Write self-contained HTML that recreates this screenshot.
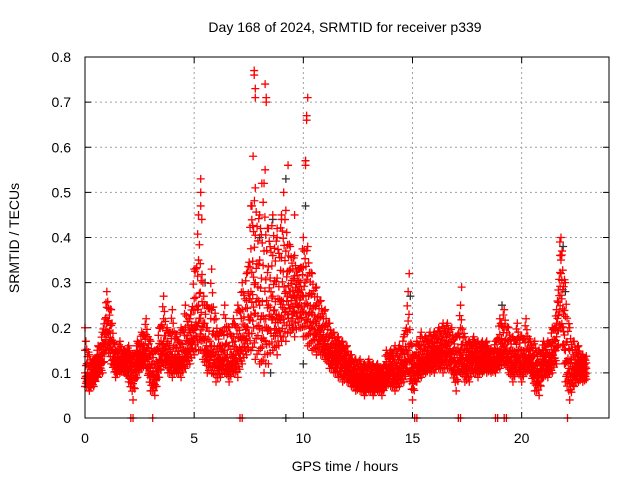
<!DOCTYPE html>
<html><head><meta charset="utf-8"><style>
body{margin:0;background:#fff}
svg{display:block;font-family:"Liberation Sans",sans-serif}
</style></head><body>
<svg id="chart" width="640" height="480" viewBox="0 0 640 480">
<rect width="640" height="480" fill="#fff"/>
<text x="345" y="32" text-anchor="middle" font-size="14">Day 168 of 2024, SRMTID for receiver p339</text>
<text x="345" y="471" text-anchor="middle" font-size="14">GPS time / hours</text>
<text transform="translate(19,238) rotate(-90)" text-anchor="middle" font-size="14">SRMTID / TECUs</text>
<g id="grid"></g>
<g id="ticks"></g>
<g id="dark"></g>
<g id="red"></g>
<rect x="85" y="57" width="524" height="361" fill="none" stroke="#000" stroke-width="1"/>
</svg>
<script>
const xTicks=[0,5,10,15,20];
const yTicks=[0,0.1,0.2,0.3,0.4,0.5,0.6,0.7,0.8];
const yTickLabels=["0","0.1","0.2","0.3","0.4","0.5","0.6","0.7","0.8"];
const binStart=0, binStep=0.2;
const lo=[.07,.06,.07,.09,.10,.15,.12,.09,.10,.10,.08,.04,.09,.11,.11,.06,.05,.09,.12,.10,.09,.10,.09,.11,.12,.14,.15,.13,.10,.10,.08,.09,.10,.08,.10,.09,.12,.14,.15,.13,.12,.10,.12,.15,.14,.17,.17,.19,.18,.20,.18,.16,.15,.14,.14,.13,.11,.10,.09,.08,.08,.07,.06,.06,.05,.06,.05,.06,.05,.07,.07,.06,.07,.08,.10,.04,.08,.09,.10,.10,.10,.11,.10,.11,.10,.06,.10,.08,.08,.10,.09,.10,.10,.10,.10,.11,.12,.10,.08,.10,.08,.10,.10,.06,.05,.09,.09,.10,.12,.20,.08,.04,.07,.08,.08];
const mid=[.10,.09,.10,.12,.14,.21,.17,.12,.13,.12,.13,.10,.13,.14,.15,.11,.09,.13,.17,.14,.14,.13,.13,.15,.17,.20,.25,.20,.15,.16,.14,.13,.15,.12,.14,.15,.18,.20,.28,.30,.25,.22,.25,.27,.22,.26,.28,.28,.27,.28,.27,.25,.23,.21,.19,.17,.15,.14,.14,.13,.12,.10,.09,.09,.08,.09,.08,.09,.08,.10,.11,.10,.11,.12,.15,.10,.12,.13,.13,.14,.14,.15,.15,.16,.14,.12,.15,.12,.13,.14,.13,.13,.14,.12,.13,.15,.16,.14,.12,.14,.12,.14,.13,.11,.10,.13,.12,.14,.18,.32,.15,.10,.11,.12,.11];
const hi=[.20,.14,.13,.16,.19,.28,.24,.15,.17,.15,.16,.14,.17,.19,.22,.17,.15,.20,.27,.19,.24,.18,.20,.25,.22,.33,.45,.30,.25,.33,.22,.19,.25,.20,.22,.25,.30,.32,.47,.51,.45,.52,.42,.45,.40,.45,.46,.38,.36,.33,.40,.38,.32,.29,.26,.24,.21,.19,.18,.17,.16,.14,.13,.13,.12,.13,.12,.12,.11,.15,.15,.16,.16,.18,.28,.14,.17,.19,.18,.19,.19,.20,.21,.21,.20,.18,.25,.18,.17,.18,.17,.17,.17,.15,.17,.22,.24,.20,.18,.21,.18,.22,.17,.17,.15,.17,.17,.20,.24,.40,.30,.20,.17,.16,.14];
const peakT=[5.3,5.3,5.35,5.3,7.75,7.75,7.8,7.8,7.7,8.25,8.3,8.3,8.1,8.25,9.3,9.1,10.2,10.15,10.15,10.1,10.1,7.65,9.6,8.8,9.0,14.85,17.25,21.75,21.85,21.8];
const peakV=[.53,.50,.44,.47,.77,.76,.73,.71,.58,.74,.70,.71,.52,.55,.56,.50,.71,.67,.66,.57,.56,.47,.45,.42,.44,.32,.29,.39,.37,.35];
const zeroT=[2.1,2.2,3.1,7.1,7.2,15.1,15.2,17.1,17.2,18.8,18.9,19.2,19.3,22.1];
const darkT=[0.1,0.2,2.0,5.5,8.0,8.5,9.2,10.1,10.0,10.1,14.9,21.9,22.0,19.1,9.5,11.0,16.0,9.2,8.6,5.8];
const darkV=[.12,.07,.10,.30,.40,.10,.53,.47,.12,.57,.27,.38,.28,.25,.20,.15,.19,0,.44,.24];

const X0=85,X1=609,Y0=418,Y1=57,xMax=24,yMax=0.8;
const xs=t=>X0+t/xMax*(X1-X0);
const ys=v=>Y0-v/yMax*(Y0-Y1);
const NS="http://www.w3.org/2000/svg";
function mk(tag,attrs,parent){const e=document.createElementNS(NS,tag);for(const k in attrs)e.setAttribute(k,attrs[k]);parent.appendChild(e);return e;}
const grid=document.getElementById('grid'),ticks=document.getElementById('ticks');
xTicks.forEach((t,i)=>{const x=xs(t);
 if(t>0){const g=mk('line',{x1:x,x2:x,y1:Y1,y2:Y0,stroke:'#a0a0a0','stroke-dasharray':'2,3'},grid);}
 mk('line',{x1:x,x2:x,y1:Y0,y2:Y0-6,stroke:'#000'},ticks);mk('line',{x1:x,x2:x,y1:Y1,y2:Y1+6,stroke:'#000'},ticks);
 const tx=mk('text',{x:x,y:443,'text-anchor':'middle','font-size':'14'},ticks);tx.textContent=String(t);
 
 });
yTicks.forEach((v,i)=>{const y=ys(v);
 if(v>0&&v<yMax){const g=mk('line',{x1:X0,x2:X1,y1:y,y2:y,stroke:'#a0a0a0','stroke-dasharray':'2,3'},grid);}
 mk('line',{x1:X0,x2:X0+6,y1:y,y2:y,stroke:'#000'},ticks);mk('line',{x1:X1,x2:X1-6,y1:y,y2:y,stroke:'#000'},ticks);
 const tx=mk('text',{x:71,y:y+5,'text-anchor':'end','font-size':'14'},ticks);tx.textContent=yTickLabels[i];
 
 });
function plus(g,t,v,color){const x=xs(t),y=ys(v);
 const p=mk('path',{d:`M${x-4},${y}H${x+4}M${x},${y-4}V${y+4}`,stroke:color,'stroke-width':'1.3',fill:'none'},g);
 
 }
const dark=document.getElementById('dark'),red=document.getElementById('red');
darkT.forEach((t,i)=>plus(dark,t,darkV[i],'#333'));
const wSets=[[0,0.3,0.5,0.75,1],[0.15,0.4,0.6,0.9],[0.05,0.25,0.45,0.65,0.85],[0.2,0.35,0.55,0.8],[0.1,0.3,0.5,0.7,0.95]];
lo.forEach((l0,i)=>{
 const n=Math.min(i+1,lo.length-1);
 for(let j=0;j<5;j++){
  const f=j/5,t=binStart+(i+f)*binStep;
  const l=l0+(lo[n]-l0)*f,m=mid[i]+(mid[n]-mid[i])*f,h=hi[i]+(hi[n]-hi[i])*f;
  wSets[j].forEach(w=>{
   const v=w<0.5?l+(m-l)*(w*2):m+(h-m)*((w-0.5)*2);
   plus(red,t,v,'#f00');
  });
 }
});
peakT.forEach((t,i)=>plus(red,t,peakV[i],'#f00'));
zeroT.forEach(t=>plus(red,t,0,'#f00'));
</script>
</body></html>
